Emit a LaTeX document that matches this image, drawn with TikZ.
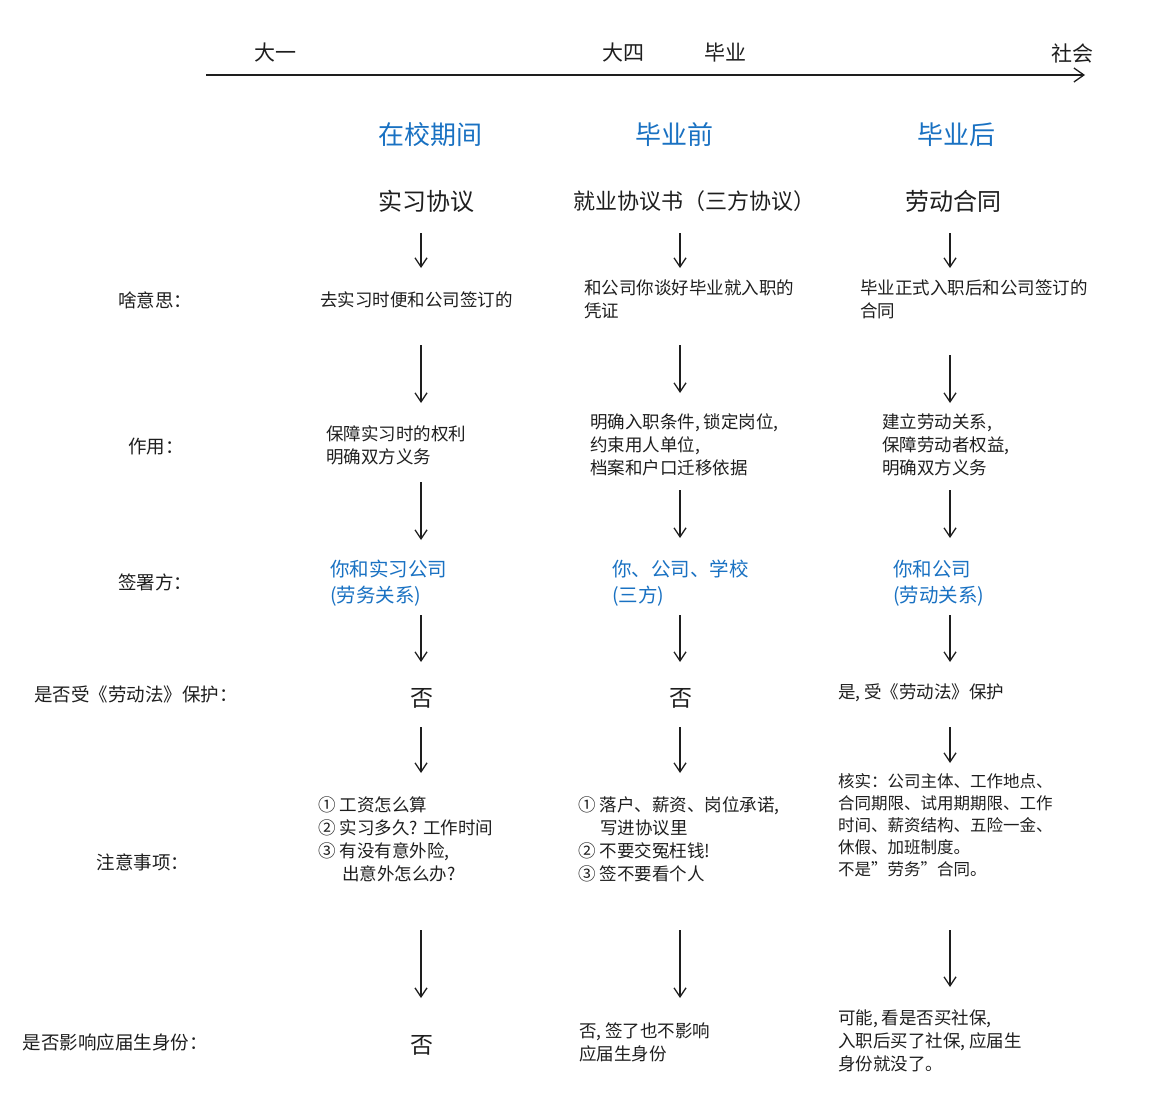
\documentclass[tikz,border=0pt]{standalone}
\usepackage{fontspec}
\setmainfont{Noto Sans CJK SC}
\usetikzlibrary{arrows.meta}
\definecolor{ink}{HTML}{1E1E1E}
\definecolor{blu}{HTML}{1971C2}
\begin{document}
\begin{tikzpicture}[x=1pt,y=-1pt,
  txt/.style={anchor=west,text=ink,font=\fontsize{17.5}{23}\selectfont,align=left,inner sep=0},
  lab/.style={text=ink,font=\fontsize{18.5}{23}\selectfont,inner sep=0},
  tl/.style={text=ink,font=\fontsize{21}{23}\selectfont,inner sep=0},
  ttl/.style={text=ink,font=\fontsize{24}{26}\selectfont,inner sep=0},
  hdr/.style={text=blu,font=\fontsize{26}{28}\selectfont,inner sep=0},
  bl/.style={anchor=west,text=blu,font=\fontsize{19.5}{26}\selectfont,align=left,inner sep=0},
  no/.style={text=ink,font=\fontsize{23}{26}\selectfont,inner sep=0},
  arr/.style={draw=ink,line width=1.3pt,-{Straight Barb[length=9pt,width=12pt]}}]
\useasboundingbox (0,0) rectangle (1172,1102);
% timeline
\coordinate (t0) at (206,75); \coordinate (t1) at (1085,75);
\draw[draw=ink,line width=1.3pt,-{Straight Barb[length=10pt,width=14pt]}] (t0) -- (t1);
\node[tl] (y1) at (275,53) {大一};
\node[tl] (y4) at (623,53) {大四};
\node[tl] (gr) at (725,53) {毕业};
\node[tl] (so) at (1072,53) {社会};
% headers
\node[hdr] (h1) at (430,135) {在校期间};
\node[hdr] (h2) at (674,135) {毕业前};
\node[hdr] (h3) at (956,135) {毕业后};
\node[ttl] (c1) at (426,201) {实习协议};
\node[ttl,font=\fontsize{22}{26}\selectfont] (c2) at (694,201) {就业协议书（三方协议）};
\node[ttl] (c3) at (953,201) {劳动合同};
% left labels
\node[lab] (l1) at (155,300) {啥意思：};
\node[lab] (l2) at (156,447) {作用：};
\node[lab] (l3) at (155,582) {签署方：};
\node[lab] (l4) at (136,694) {是否受《劳动法》保护：};
\node[lab] (l5) at (143,862) {注意事项：};
\node[lab] (l6) at (115,1042) {是否影响应届生身份：};
% row1
\node[txt] (a1) at (320,300) {去实习时便和公司签订的};
\node[txt] (b1) at (584,299) {和公司你谈好毕业就入职的\\凭证};
\node[txt] (d1) at (860,299) {毕业正式入职后和公司签订的\\合同};
% row2
\node[txt] (a2) at (326,445) {保障实习时的权利\\明确双方义务};
\node[txt] (b2) at (590,445) {明确入职条件, 锁定岗位,\\约束用人单位,\\档案和户口迁移依据};
\node[txt] (d2) at (882,445) {建立劳动关系,\\保障劳动者权益,\\明确双方义务};
% row3
\node[bl] (a3) at (330,583) {你和实习公司\\(劳务关系)};
\node[bl] (b3) at (612,583) {你、公司、学校\\(三方)};
\node[bl] (d3) at (893,583) {你和公司\\(劳动关系)};
% row4
\node[no] (a4) at (422,698) {否};
\node[no] (b4) at (681,698) {否};
\node[txt] (d4) at (838,693) {是, 受《劳动法》保护};
% row5
\node[txt] (a5) at (318,839) {① 工资怎么算\\② 实习多久? 工作时间\\③ 有没有意外险,\\\hspace*{24pt}出意外怎么办?};
\node[txt] (b5) at (578,839) {① 落户、薪资、岗位承诺,\\\hspace*{22pt}写进协议里\\② 不要交冤枉钱!\\③ 签不要看个人};
\node[txt,font=\fontsize{16.5}{22}\selectfont] (d5) at (838,825) {核实：公司主体、工作地点、\\合同期限、试用期期限、工作\\时间、薪资结构、五险一金、\\休假、加班制度。\\不是"劳务"合同。};
% row6
\node[no] (a6) at (422,1045) {否};
\node[txt] (b6) at (579,1042) {否, 签了也不影响\\应届生身份};
\node[txt] (d6) at (838,1041) {可能, 看是否买社保,\\入职后买了社保, 应届生\\身份就没了。};
% arrows
\foreach \i/\a/\b in {1/233/268,2/345/403,3/482/540,4/615/662,5/727/773,6/930/998}{
  \coordinate (p\i s) at (421,\a); \coordinate (p\i e) at (421,\b);
  \draw[arr] (p\i s) -- (p\i e);}
\foreach \i/\a/\b in {1/233/268,2/345/393,3/490/538,4/615/662,5/727/773,6/930/998}{
  \coordinate (q\i s) at (680,\a); \coordinate (q\i e) at (680,\b);
  \draw[arr] (q\i s) -- (q\i e);}
\foreach \i/\a/\b in {1/233/268,2/355/403,3/490/538,4/615/662,5/727/763,6/930/987}{
  \coordinate (r\i s) at (950,\a); \coordinate (r\i e) at (950,\b);
  \draw[arr] (r\i s) -- (r\i e);}
\end{tikzpicture}
\end{document}
